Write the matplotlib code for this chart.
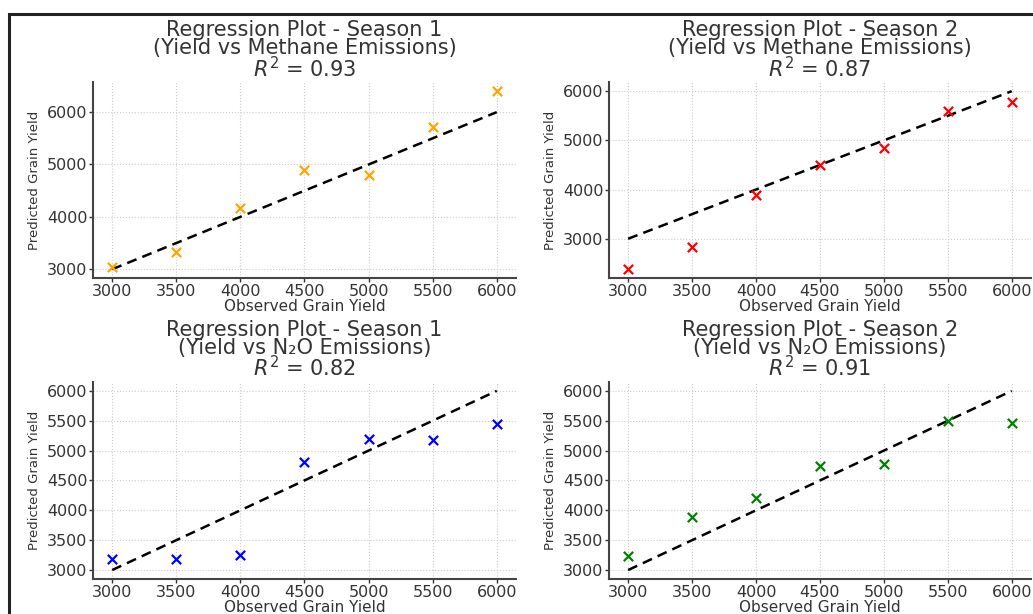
import matplotlib
matplotlib.use("Agg")
import matplotlib.pyplot as plt
from matplotlib.patches import Rectangle

observed = [3000, 3500, 4000, 4500, 5000, 5500, 6000]

pred_s1_methane = [3050, 3330, 4160, 4890, 4800, 5720, 6400]
pred_s2_methane = [2380, 2830, 3880, 4500, 4840, 5600, 5780]
pred_s1_n2o = [3180, 3190, 3245, 4810, 5190, 5180, 5450]
pred_s2_n2o = [3230, 3890, 4210, 4740, 4780, 5500, 5460]

yticks_methane = [3000, 4000, 5000, 6000]
yticks_n2o = [3000, 3500, 4000, 4500, 5000, 5500, 6000]

titles = [
    "Regression Plot - Season 1\n(Yield vs Methane Emissions)\n$R^2$ = 0.93",
    "Regression Plot - Season 2\n(Yield vs Methane Emissions)\n$R^2$ = 0.87",
    "Regression Plot - Season 1\n(Yield vs N\u2082O Emissions)\n$R^2$ = 0.82",
    "Regression Plot - Season 2\n(Yield vs N\u2082O Emissions)\n$R^2$ = 0.91",
]
colors = ["orange", "red", "blue", "green"]
series = [pred_s1_methane, pred_s2_methane, pred_s1_n2o, pred_s2_n2o]
yticks_list = [yticks_methane, yticks_methane, yticks_n2o, yticks_n2o]

fig = plt.figure(figsize=(10.33, 6.14), dpi=100)
txt = "#333333"

positions = [
    [0.090, 0.547, 0.4095, 0.319],
    [0.5895, 0.547, 0.4085, 0.319],
    [0.090, 0.057, 0.4095, 0.321],
    [0.5895, 0.057, 0.4085, 0.321],
]

for pos, title, col, ys, yt in zip(positions, titles, colors, series, yticks_list):
    ax = fig.add_axes(pos)
    ax.scatter(observed, ys, marker="x", color=col, s=45, linewidths=1.6, zorder=3)
    ax.plot([min(observed), max(observed)], [min(observed), max(observed)],
            linestyle="--", color="black", linewidth=1.8, dashes=(4, 2.5), zorder=2)
    ax.set_title(title, fontsize=15, color=txt, linespacing=0.88, pad=4)
    ax.set_xlabel("Observed Grain Yield", fontsize=11, color=txt, labelpad=0)
    ax.set_ylabel("Predicted Grain Yield", fontsize=9.5, color=txt, labelpad=4)
    ax.tick_params(labelsize=11.5, colors=txt, length=3, width=1, pad=1)
    ax.grid(True, linestyle=":", color="#cccccc", linewidth=0.8)
    ax.set_axisbelow(True)
    for s in ["top", "right"]:
        ax.spines[s].set_visible(False)
    for s in ["left", "bottom"]:
        ax.spines[s].set_color("#444444")
        ax.spines[s].set_linewidth(1.5)
    ax.set_xticks(observed)
    ax.set_yticks(yt)

fig.patches.append(Rectangle((9 / 1033, -0.2), 1.5, 0.2 + (614 - 14) / 614,
                             transform=fig.transFigure, fill=False,
                             edgecolor="#222222", linewidth=2.2, clip_on=False))

fig.savefig("out.png", dpi=100)
